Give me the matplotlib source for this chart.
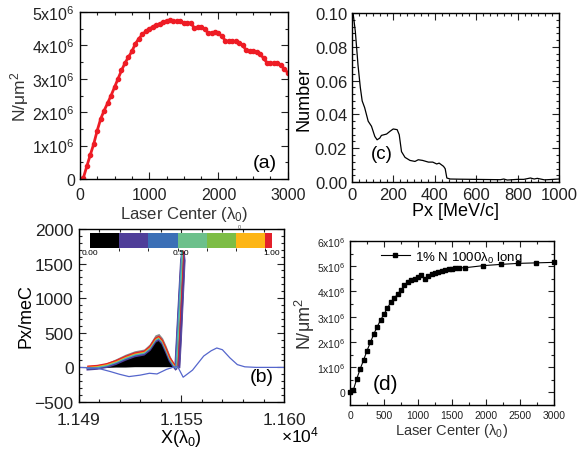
import matplotlib
matplotlib.use('Agg')
import matplotlib.pyplot as plt
from matplotlib.colors import ListedColormap, BoundaryNorm
from matplotlib.cm import ScalarMappable
from matplotlib.ticker import MultipleLocator, FixedLocator, FormatStrFormatter

plt.rcParams['font.family'] = ['Liberation Sans', 'DejaVu Sans']
plt.rcParams['mathtext.fontset'] = 'custom'
plt.rcParams['mathtext.rm'] = 'Liberation Sans'
plt.rcParams['mathtext.it'] = 'Liberation Sans:italic'

# ---- panel (a): areal density vs laser centre
a_x = [0, 50, 100, 150, 200, 250, 300, 350, 400, 450, 500, 550, 600, 650, 700,
       750, 800, 850, 900, 950, 1000, 1050, 1100, 1150, 1200, 1250, 1300, 1350,
       1400, 1450, 1500, 1550, 1600, 1650, 1700, 1750, 1800, 1850, 1900, 1950,
       2000, 2050, 2100, 2150, 2200, 2250, 2300, 2350, 2400, 2450, 2500, 2550,
       2600, 2650, 2700, 2750, 2800, 2850, 2900, 2950, 3000]
a_y = [0, 0.03, 0.38, 0.72, 1.05, 1.45, 1.80, 2.05, 2.27, 2.50, 2.75, 3.00,
       3.25, 3.47, 3.65, 3.82, 4.05, 4.20, 4.33, 4.42, 4.49, 4.56, 4.61, 4.65,
       4.69, 4.74, 4.75, 4.72, 4.73, 4.74, 4.66, 4.68, 4.67, 4.53, 4.54, 4.55,
       4.50, 4.37, 4.38, 4.39, 4.36, 4.28, 4.14, 4.12, 4.12, 4.12, 4.08, 4.00,
       3.86, 3.82, 3.82, 3.81, 3.75, 3.62, 3.48, 3.47, 3.47, 3.46, 3.40, 3.30,
       3.18]
a_yticklabels = ['0', '1x10$^6$', '2x10$^6$', '3x10$^6$', '4x10$^6$', '5x10$^6$']

# ---- panel (c): momentum spectrum
c_x = [5, 16, 29, 40, 49, 61, 78, 94, 110, 121, 134, 142, 167, 183, 199, 218,
       228, 239, 256, 280, 304, 320, 341, 369, 390, 409, 421, 442, 450, 458,
       474, 520, 587, 650, 717, 733, 750, 800, 830, 862, 880, 895, 930, 960, 1000]
c_y = [0.100, 0.089, 0.069, 0.056, 0.048, 0.044, 0.036, 0.033, 0.027, 0.025,
       0.026, 0.0276, 0.0284, 0.030, 0.0314, 0.031, 0.028, 0.018, 0.0146,
       0.0128, 0.0122, 0.0132, 0.0128, 0.0118, 0.0118, 0.0107, 0.0112, 0.0093,
       0.0079, 0.0024, 0.0018, 0.0017, 0.0016, 0.0015, 0.0014, 0.0018, 0.0012,
       0.0016, 0.0016, 0.0024, 0.0018, 0.0022, 0.0013, 0.0015, 0.0018]

# ---- panel (b): phase space (x in lambda0, px in mec)
line_x = [11495, 11505, 11512, 11517, 11522, 11528, 11533, 11537, 11542, 11546,
          11548, 11551, 11556, 11562, 11566, 11569, 11572, 11576, 11580, 11584,
          11590, 11605]
line_y = [0, -10, -60, -100, -133, -112, -85, -95, -30, 5, 15, -142, -40, 164,
          240, 280, 255, 138, 40, 8, 0, 0]
bx = [11500, 11505, 11510, 11515, 11520, 11525, 11530, 11533, 11536, 11538,
      11540, 11542, 11544, 11546, 11547]
b_top = [0, 25, 65, 125, 190, 240, 265, 340, 470, 490, 425, 305, 165, 60, 10]
b_ridge = [0, 10, 35, 80, 140, 190, 215, 280, 400, 430, 370, 250, 120, 40, 5]
b_bot = [0, 0, 0, 5, 5, 10, 10, 10, 10, 10, 10, 10, 10, 10, 5]
sp_y = [0, 400, 800, 1200, 1550, 1680]
sp_left = [11546.2, 11547.0, 11547.8, 11548.6, 11549.3, 11550.0]
sp_right = [11549.0, 11549.8, 11550.5, 11551.2, 11551.8, 11551.3]
cb_bounds = [0, 0.161, 0.321, 0.481, 0.642, 0.802, 0.96, 1.0]
cb_colors = ['#000000', '#4f3e99', '#3b6fb6', '#6cc08b', '#7dbd45', '#fdb515', '#e3202a']

# ---- panel (d): 1% N, 1000 lambda0 long
d_x = [0, 50, 100, 150, 200, 250, 300, 350, 400, 450, 500, 550, 600, 650, 700,
       750, 800, 850, 900, 950, 1000, 1050, 1100, 1150, 1200, 1250, 1300, 1350,
       1400, 1450, 1500, 1550, 1600, 1700, 1960, 2220, 2480, 2740, 3000]
d_y = [0.01, 0.10, 0.54, 0.93, 1.28, 1.65, 1.98, 2.31, 2.60, 2.86, 3.10, 3.33,
       3.57, 3.72, 3.89, 4.05, 4.24, 4.38, 4.44, 4.51, 4.58, 4.64, 4.51, 4.60,
       4.68, 4.73, 4.77, 4.81, 4.83, 4.87, 4.89, 4.92, 4.93, 4.94, 5.02, 5.07,
       5.11, 5.13, 5.15]
d_yticklabels = ['0', '1x10$^6$', '2x10$^6$', '3x10$^6$', '4x10$^6$', '5x10$^6$', '6x10$^6$']


def ticks_in(ax, size=11, major=5, minor=2.5, xpad=3.5):
    ax.tick_params(which='both', direction='in', top=True, right=True,
                   labelsize=size, width=0.8, colors='#222222')
    ax.tick_params(which='major', length=major)
    ax.tick_params(which='minor', length=minor)
    ax.tick_params(axis='x', pad=xpad)
    for s in ax.spines.values():
        s.set_linewidth(1.0)


fig = plt.figure(figsize=(5.79, 4.52), dpi=100)

# (a)
ax_a = fig.add_axes([0.138, 0.602, 0.359, 0.369])
ax_a.plot(a_x, [v * 1e6 for v in a_y], color='#ee1c25', lw=2, marker='o', ms=3)
ax_a.set_xlim(0, 3000)
ax_a.set_ylim(0, 5e6)
ax_a.xaxis.set_major_locator(MultipleLocator(1000))
ax_a.xaxis.set_minor_locator(MultipleLocator(250))
ax_a.yaxis.set_major_locator(FixedLocator([i * 1e6 for i in range(6)]))
ax_a.yaxis.set_minor_locator(MultipleLocator(0.5e6))
ax_a.set_yticklabels(a_yticklabels)
ticks_in(ax_a, 11.5, xpad=6)
ax_a.set_xlabel('Laser Center (λ$_0$)', fontsize=12, labelpad=1, color='#333333')
ax_a.set_ylabel('N/μm$^2$', fontsize=12.5, labelpad=1, color='#333333')
ax_a.text(0.95, 0.07, '(a)', transform=ax_a.transAxes, ha='right', fontsize=14)

# (c)
ax_c = fig.add_axes([0.608, 0.595, 0.3575, 0.374])
ax_c.plot(c_x, c_y, color='black', lw=0.9)
ax_c.set_xlim(0, 1000)
ax_c.set_ylim(0, 0.10)
ax_c.xaxis.set_major_locator(MultipleLocator(200))
ax_c.xaxis.set_minor_locator(MultipleLocator(200 / 6))
ax_c.yaxis.set_major_locator(MultipleLocator(0.02))
ax_c.yaxis.set_minor_locator(MultipleLocator(0.004))
ax_c.yaxis.set_major_formatter(FormatStrFormatter('%.2f'))
ticks_in(ax_c, 12, 5, 2)
ax_c.set_xlabel('Px [MeV/c]', fontsize=13, labelpad=0)
ax_c.set_ylabel('Number', fontsize=13, labelpad=2)
ax_c.text(0.09, 0.14, '(c)', transform=ax_c.transAxes, fontsize=13.5)

# (b)
ax_b = fig.add_axes([0.1356, 0.1084, 0.355, 0.383])
ax_b.fill_between(bx, b_ridge, b_top, color='#8a8a8a', lw=0)
ax_b.fill_between(bx, b_bot, b_ridge, color='black', lw=0)
ax_b.plot(bx, [v - 25 for v in b_ridge], color='#4f3e99', lw=2)
ax_b.plot(bx, [v - 10 for v in b_ridge], color='#3b9fd6', lw=1.2)
ax_b.plot(bx, b_ridge, color='#6cc08b', lw=1.2)
ax_b.plot(bx, [v + 10 for v in b_ridge], color='#fdb515', lw=1)
ax_b.plot(bx, [v + 18 for v in b_ridge], color='#e3202a', lw=0.9)
ax_b.fill_betweenx(sp_y, sp_left, sp_right, color='#4f3e99', lw=0.6)
ax_b.plot([(l + r) / 2 - 0.5 for l, r in zip(sp_left, sp_right)], sp_y, color='#3b9fd6', lw=0.8)
ax_b.plot([(l + r) / 2 for l, r in zip(sp_left, sp_right)], sp_y, color='#6cc08b', lw=1)
ax_b.plot([(l + r) / 2 + 0.5 for l, r in zip(sp_left, sp_right)], sp_y, color='#e3202a', lw=0.6)
ax_b.plot(line_x, line_y, color='#5566cc', lw=0.9)
ax_b.set_xlim(11495, 11605)
ax_b.set_ylim(-500, 2000)
ax_b.xaxis.set_major_locator(FixedLocator([11495, 11550, 11605]))
ax_b.xaxis.set_minor_locator(MultipleLocator(11))
ax_b.set_xticklabels(['1.149', '1.155', '1.160'])
ax_b.yaxis.set_major_locator(MultipleLocator(500))
ax_b.yaxis.set_minor_locator(MultipleLocator(100))
ticks_in(ax_b, 12.5, 5, 2.5, xpad=7)
ax_b.set_xlabel('X(λ$_0$)', fontsize=13, labelpad=0)
ax_b.set_ylabel('Px/meC', fontsize=13, labelpad=0)
ax_b.text(0.95, 0.12, '(b)', transform=ax_b.transAxes, ha='right', fontsize=14)
fig.text(0.485, 0.022, '×10$^4$', fontsize=12.5, ha='left')
fig.text(0.41, 0.493, '0', fontsize=4, color='#555555')

cax = ax_b.inset_axes([0.056, 0.890, 0.886, 0.087])
cmap = ListedColormap(cb_colors)
norm = BoundaryNorm(cb_bounds, cmap.N)
cb = fig.colorbar(ScalarMappable(norm=norm, cmap=cmap), cax=cax,
                  orientation='horizontal', spacing='proportional')
cb.set_ticks([0, 0.5, 1.0])
cb.set_ticklabels(['0.00', '0.50', '1.00'])
cb.ax.tick_params(labelsize=6, length=0, pad=1)
cb.outline.set_visible(False)

# (d)
ax_d = fig.add_axes([0.6045, 0.1018, 0.352, 0.363])
ax_d.plot(d_x, [v * 1e6 for v in d_y], color='black', lw=0.8, marker='s', ms=3.5,
          label='1% N 1000λ$_0$ long', clip_on=False)
ax_d.set_xlim(0, 3000)
ax_d.set_ylim(-0.5e6, 6e6)
ax_d.xaxis.set_major_locator(MultipleLocator(500))
ax_d.xaxis.set_minor_locator(MultipleLocator(250))
ax_d.yaxis.set_major_locator(FixedLocator([i * 1e6 for i in range(7)]))
ax_d.yaxis.set_minor_locator(MultipleLocator(0.5e6))
ax_d.set_yticklabels(d_yticklabels)
ticks_in(ax_d, 7.5, 4, 2)
ax_d.set_xlabel('Laser Center (λ$_0$)', fontsize=10.5, labelpad=1, color='#333333')
ax_d.set_ylabel('N/μm$^2$', fontsize=13, labelpad=0, color='#333333')
ax_d.legend(loc='upper center', bbox_to_anchor=(0.5, 1.0), frameon=False,
            fontsize=9.5, handlelength=2.2, handletextpad=0.4, borderaxespad=0.2)
ax_d.text(0.11, 0.1, '(d)', transform=ax_d.transAxes, fontsize=15)

fig.savefig('out.png', dpi=100)
